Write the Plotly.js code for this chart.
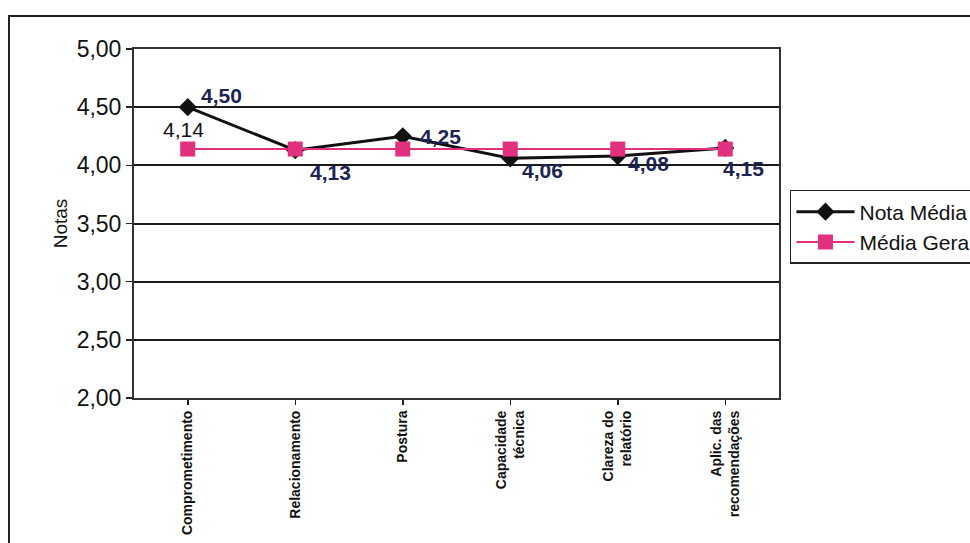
<!DOCTYPE html>
<html>
<head>
<meta charset="utf-8">
<script src="https://cdn.plot.ly/plotly-3.0.1.min.js"></script>
<style>
  html, body { margin: 0; padding: 0; background: #ffffff; overflow: hidden; }
  #frame { position: absolute; left: 8px; top: 15px; width: 1100px; height: 700px;
           border-left: 2px solid #222; border-top: 2px solid #222; pointer-events: none; }
  #chart { position: absolute; left: 0; top: 0; width: 970px; height: 543px; }
</style>
</head>
<body>
<div id="chart"></div>
<div id="frame"></div>
<script>
// Evaluation criteria (x axis)
const categories = [
  "Comprometimento",
  "Relacionamento",
  "Postura",
  "Capacidade<br>técnica",
  "Clareza do<br>relatório",
  "Aplic. das<br>recomendações"
];

// Average score per criterion
const notaMedia = [4.50, 4.13, 4.25, 4.06, 4.08, 4.15];

// Overall average, repeated across criteria
const mediaGeral = [4.14, 4.14, 4.14, 4.14, 4.14, 4.14];

// Y axis ticks
const yTicks = [2.00, 2.50, 3.00, 3.50, 4.00, 4.50, 5.00];

const fmt = v => v.toFixed(2).replace('.', ',');

// Pixel offsets for the value labels of each point
const labelDX = [34, 35, 38, 32, 31, 18];
const labelDY = [12, -22, 0, -12, -7, -21];

const xIdx = categories.map((_, i) => i);

const traces = [
  {
    name: "Nota Média",
    x: xIdx,
    y: notaMedia,
    type: "scatter",
    mode: "lines+markers",
    line: { color: "#111111", width: 3 },
    marker: { symbol: "diamond", size: 14, color: "#111111" },
    hoverinfo: "skip"
  },
  {
    name: "Média Geral",
    x: xIdx,
    y: mediaGeral,
    type: "scatter",
    mode: "lines+markers",
    line: { color: "#e0307e", width: 2 },
    marker: { symbol: "square", size: 15, color: "#e0307e" },
    hoverinfo: "skip"
  }
];

const labelFont = "Arial, Liberation Sans, sans-serif";

const annotations = notaMedia.map((v, i) => ({
  x: i, y: v, xref: "x", yref: "y",
  text: "<b>" + fmt(v) + "</b>",
  showarrow: false,
  xanchor: "center", yanchor: "middle",
  xshift: labelDX[i], yshift: labelDY[i],
  font: { family: labelFont, size: 21, color: "#1b2452" }
}));

// Overall average label on the first point
annotations.push({
  x: 0, y: mediaGeral[0], xref: "x", yref: "y",
  text: fmt(mediaGeral[0]),
  showarrow: false,
  xanchor: "center", yanchor: "middle",
  xshift: -4, yshift: 20,
  font: { family: labelFont, size: 21, color: "#111111" }
});

const layout = {
  width: 970,
  height: 543,
  margin: { l: 134, r: 191, t: 49, b: 145, autoexpand: false },
  paper_bgcolor: "rgba(0,0,0,0)",
  plot_bgcolor: "#ffffff",
  separators: ",.",
  showlegend: true,
  font: { family: labelFont, color: "#111111" },
  xaxis: {
    range: [-0.5, 5.5],
    tickmode: "array",
    tickvals: xIdx,
    ticktext: categories.map(c => "<b>" + c + "</b>"),
    tickangle: -90,
    ticks: "outside",
    ticklen: 5,
    tickcolor: "#222",
    tickwidth: 1.5,
    tickson: "boundaries",
    showgrid: false,
    zeroline: false,
    showline: true,
    mirror: true,
    linecolor: "#333",
    linewidth: 2,
    automargin: false,
    tickfont: { family: labelFont, size: 14, color: "#111" }
  },
  yaxis: {
    range: [2, 5],
    tickmode: "array",
    tickvals: yTicks,
    ticktext: yTicks.map(fmt),
    ticks: "outside",
    ticklen: 6,
    tickcolor: "#222",
    tickwidth: 1.5,
    showgrid: true,
    gridcolor: "#1a1a1a",
    gridwidth: 2,
    zeroline: false,
    showline: true,
    mirror: true,
    linecolor: "#333",
    linewidth: 2,
    automargin: false,
    tickfont: { family: labelFont, size: 23, color: "#111" },
    title: { text: "Notas", standoff: 4,
             font: { family: labelFont, size: 19, color: "#111" } }
  },
  legend: {
    x: 1.017, y: 0.596,
    xanchor: "left", yanchor: "top",
    bgcolor: "#ffffff",
    bordercolor: "#222",
    borderwidth: 1.5,
    itemwidth: 58,
    tracegroupgap: 0,
    font: { family: labelFont, size: 21, color: "#111" }
  },
  annotations: annotations
};

Plotly.newPlot("chart", traces, layout, { staticPlot: true, displayModeBar: false });
</script>
</body>
</html>
